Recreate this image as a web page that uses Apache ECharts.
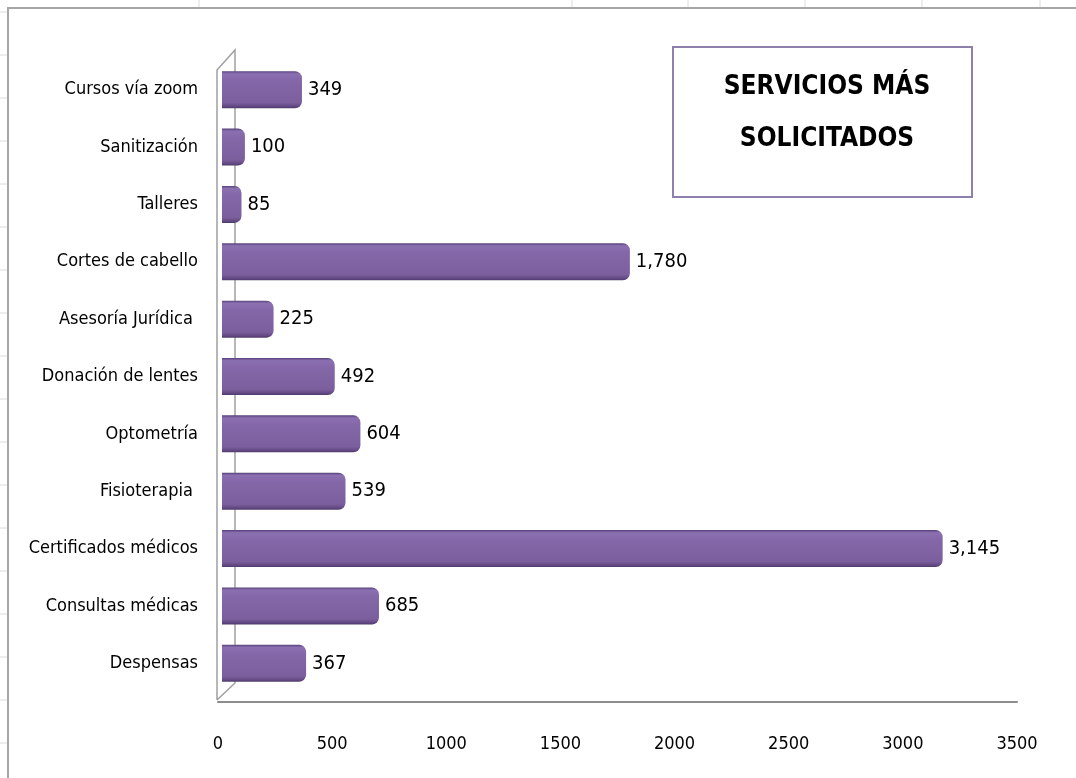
<!DOCTYPE html>
<html>
<head>
<meta charset="utf-8">
<script src="https://cdn.jsdelivr.net/npm/echarts@6/dist/echarts.min.js"></script>
<style>
  html, body { margin: 0; padding: 0; background: #fff; }
  #chart { width: 1076px; height: 778px; }
</style>
</head>
<body>
<div id="chart"></div>
<script>
  const categories = [
    "Cursos vía zoom",
    "Sanitización",
    "Talleres",
    "Cortes de cabello",
    "Asesoría Jurídica ",
    "Donación de lentes",
    "Optometría",
    "Fisioterapia ",
    "Certificados médicos",
    "Consultas médicas",
    "Despensas"
  ];
  const serviceCounts = [349, 100, 85, 1780, 225, 492, 604, 539, 3145, 685, 367];
  const xTicks = [0, 500, 1000, 1500, 2000, 2500, 3000, 3500];
  const titleLines = ["SERVICIOS MÁS", "SOLICITADOS"];

  const FONT = "'DejaVu Sans Condensed', 'Liberation Sans', sans-serif";
  const chart = echarts.init(document.getElementById("chart"));

  // spreadsheet gridlines peeking out round the chart object
  const sheetLines = [];
  [199, 572, 688, 805, 922, 1040].forEach((x) => {
    sheetLines.push({ type: "line", shape: { x1: x, y1: 0, x2: x, y2: 7 }, style: { stroke: "#dcdcdc", lineWidth: 1 } });
  });
  for (let y = 12; y < 778; y += 43) {
    sheetLines.push({ type: "line", shape: { x1: 0, y1: y, x2: 7, y2: y }, style: { stroke: "#dcdcdc", lineWidth: 1 } });
  }

  chart.setOption({
    backgroundColor: "#fff",
    animation: false,
    title: {
      text: titleLines.join("\n"),
      left: 822,
      top: 56,
      textAlign: "center",
      textStyle: {
        fontFamily: FONT,
        fontWeight: "bold",
        fontSize: 26,
        lineHeight: 52,
        color: "#000"
      }
    },
    graphic: sheetLines.concat([
      // chart object border
      { type: "polyline", shape: { points: [[8, 778], [8, 8], [1076, 8]] }, style: { stroke: "#a6a6a6", lineWidth: 2, fill: null } },
      // title box
      { type: "rect", shape: { x: 673, y: 47, width: 299, height: 150 }, style: { stroke: "#8e80ad", lineWidth: 2, fill: "#fff" }, z: -1 },
      // 3d wall edges
      { type: "polyline", shape: { points: [[217, 700], [217, 70], [235, 50], [235, 683], [217, 700]] }, style: { stroke: "#a0a0a0", lineWidth: 1.5, fill: null }, z: 0 }
    ]),
    // grid 0 carries the front axis, grid 1 the bars sitting a little deeper in the 3d box
    grid: [
      { left: 218, right: 59, top: 61, bottom: 86 },
      { left: 222, right: 52, top: 61, bottom: 86 }
    ],
    xAxis: [{
      type: "value",
      gridIndex: 0,
      min: 0,
      max: 3500,
      interval: 500,
      offset: 10,
      axisLine: { show: true, lineStyle: { color: "#8c8c8c", width: 2 } },
      axisTick: { show: false },
      splitLine: { show: false },
      axisLabel: {
        margin: 33,
        fontFamily: FONT,
        fontSize: 18,
        color: "#000",
        formatter: (v) => (xTicks.indexOf(v) >= 0 ? String(v) : "")
      }
    }, {
      type: "value",
      gridIndex: 1,
      min: 0,
      max: 3500,
      show: false
    }],
    yAxis: [{
      type: "category",
      gridIndex: 0,
      inverse: true,
      data: categories,
      axisLine: { show: false },
      axisTick: { show: false },
      axisLabel: {
        margin: 20,
        fontFamily: FONT,
        fontSize: 18,
        color: "#000"
      }
    }, {
      type: "category",
      gridIndex: 1,
      inverse: true,
      data: categories,
      show: false
    }],
    series: [{
      type: "bar",
      xAxisIndex: 1,
      yAxisIndex: 1,
      data: serviceCounts,
      barWidth: 37,
      z: 3,
      itemStyle: {
        borderRadius: [0, 7, 7, 0],
        color: new echarts.graphic.LinearGradient(0, 0, 0, 1, [
          { offset: 0, color: "#56407a" },
          { offset: 0.07, color: "#8b70b1" },
          { offset: 0.25, color: "#8467a8" },
          { offset: 0.85, color: "#7b5f9d" },
          { offset: 0.94, color: "#654b86" },
          { offset: 1, color: "#4f3a6c" }
        ])
      },
      label: {
        show: true,
        position: "right",
        distance: 6,
        fontFamily: FONT,
        fontSize: 20,
        color: "#000",
        formatter: (p) => p.value.toLocaleString("en-US")
      }
    }]
  });
</script>
</body>
</html>
